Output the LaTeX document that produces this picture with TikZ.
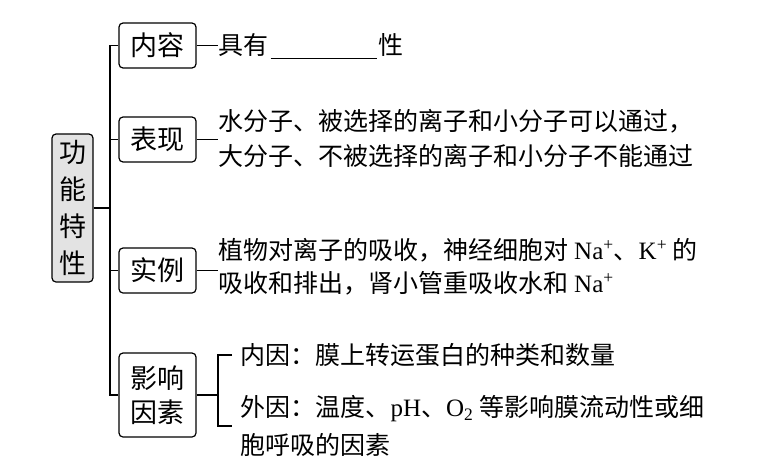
\documentclass[tikz,border=0pt]{standalone}
\usepackage{fontspec}
\setmainfont{Noto Sans CJK SC}
\newfontfamily\latinfont{Liberation Serif}
\newcommand{\lat}[1]{{\latinfont #1}}
\usetikzlibrary{positioning}

\begin{document}
\begin{tikzpicture}[x=1pt,y=-1pt,line width=1.2pt,
  box/.style={draw, rounded corners=4pt, minimum width=77pt, minimum height=45pt,
    inner sep=0pt, align=center, font=\fontsize{27}{34}\selectfont},
  txt/.style={anchor=west, inner sep=0pt, align=left, font=\fontsize{25}{35}\selectfont}]

\useasboundingbox (0,0) rectangle (779,471);

% Main node (grey)
\node[box, fill=gray!22, minimum width=41pt, minimum height=148pt,
  font=\fontsize{27}{37}\selectfont] (main) at (72.5,208) {功\\能\\特\\性};

% Branch boxes
\node[box] (content) at (157.5,45.5) {内容};
\node[box] (show) at (157.5,139.5) {表现};
\node[box] (case) at (157.5,270.5) {实例};
\node[box, minimum height=84pt] (factor) at (157.5,395) {影响\\因素};

% Texts
\node[txt] (contentText) at (218,46) {具有\hspace{2pt}\rule[-5pt]{106pt}{0.8pt}\hspace{2pt}性};
\node[txt] (showText) at (218,138)
  {水分子、被选择的离子和小分子可以通过，\\大分子、不被选择的离子和小分子不能通过};
\node[txt, font=\fontsize{25}{33}\selectfont] (caseText) at (218,267)
  {植物对离子的吸收，神经细胞对 \lat{Na\textsuperscript{+}}、\lat{K\textsuperscript{+}} 的\\吸收和排出，肾小管重吸收水和 \lat{Na\textsuperscript{+}}};
\node[txt] (innerText) at (240,355) {内因：膜上转运蛋白的种类和数量};
\node[txt, font=\fontsize{25}{38}\selectfont] (outerText) at (240,426)
  {外因：温度、\lat{pH}、\lat{O\textsubscript{2}} 等影响膜流动性或细\\胞呼吸的因素};

% Trunk
\coordinate (trunkBot) at (110,395);
\draw (content.west) -| (trunkBot) -- (factor.west);
\foreach \n in {show,case}
  \draw (\n.west -| trunkBot) -- (\n.west);
\draw (main.east) -- (main.east -| trunkBot);

% Box to text
\foreach \n in {content,show,case}
  \draw (\n.east) -- (\n.east -| \n Text.west);

% Bracket for factors
\coordinate (brace) at (218,395);
\draw (factor.east) -- (brace);
\draw ([xshift=-8pt]innerText.west) -| (brace) |- ([xshift=-8pt]outerText.west);

\end{tikzpicture}
\end{document}
